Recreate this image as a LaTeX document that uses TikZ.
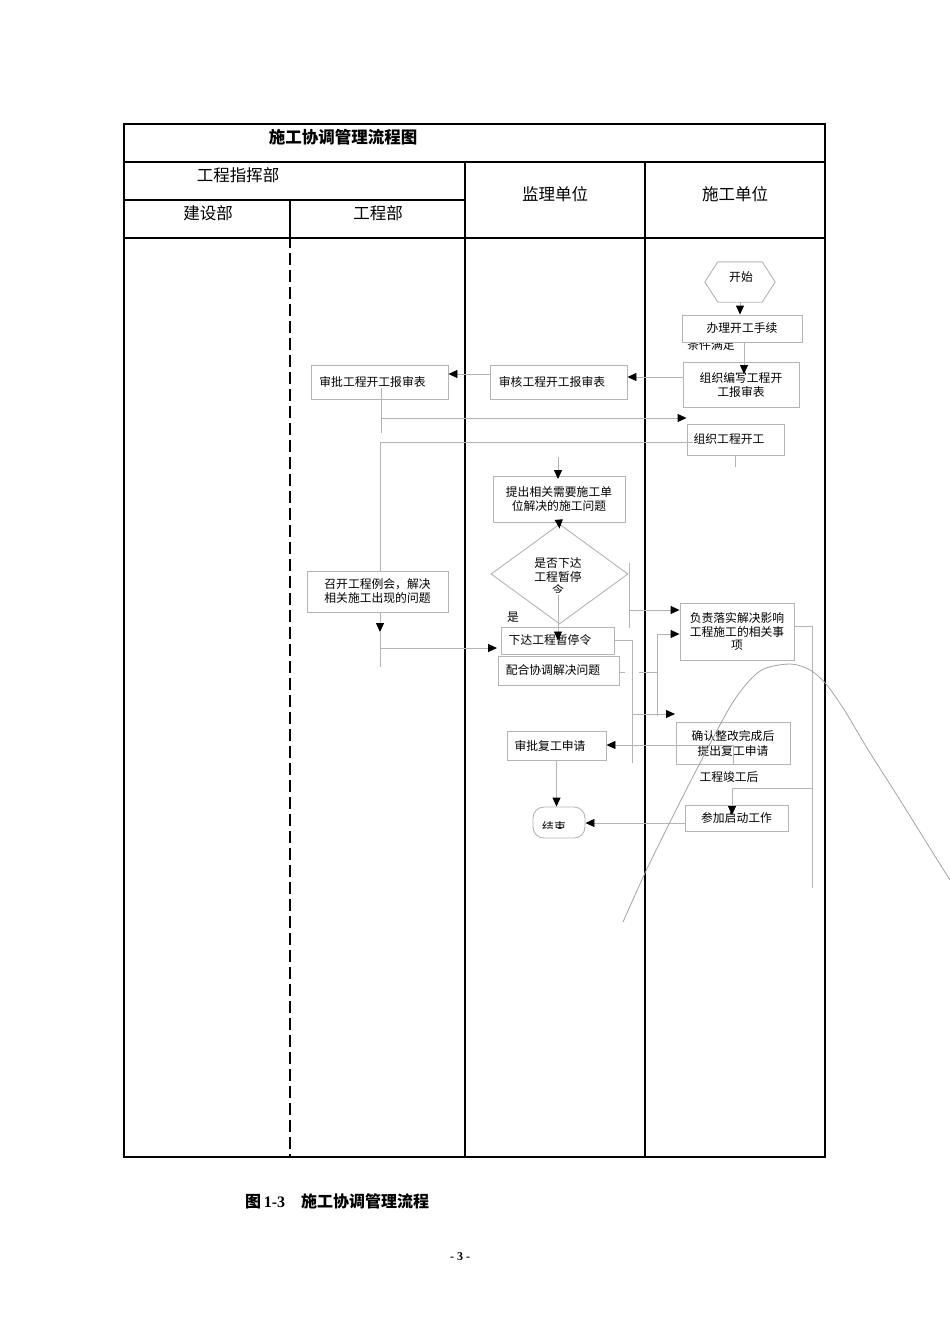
\documentclass[tikz,border=0pt]{standalone}
\usepackage{fontspec}
\setmainfont{Noto Sans CJK SC}
\newfontfamily\tnr{Liberation Serif}
\usetikzlibrary{arrows.meta,shapes.geometric,calc}
\pgfdeclarelayer{bg}
\pgfsetlayers{bg,main}
\definecolor{lg}{HTML}{B4B4B4}
\definecolor{cg}{HTML}{A4A4A4}
\begin{document}
\begin{tikzpicture}[x=1pt,y=-1pt,
  frame/.style={line width=2.6pt, black},
  boxn/.style={draw=lg, line width=0.9pt, fill=white, inner sep=0pt, align=center, font=\fontsize{11.8pt}{14pt}\selectfont},
  conn/.style={draw=lg, line width=0.9pt},
  arr/.style={conn, -{Triangle[length=9pt,width=8pt,black]}},
  lbl/.style={inner sep=0pt, align=center, font=\fontsize{11.8pt}{14pt}\selectfont},
  head/.style={inner sep=0pt, font=\fontsize{16.5pt}{18pt}\selectfont},
]
\useasboundingbox (0,0) rectangle (950,1344);

% ---------- table frame ----------
\begin{pgfonlayer}{bg}
\fill[white] (0,0) rectangle (950,1344);
\draw[frame] (124,124) rectangle (825,1157);
\draw[frame] (124,162) -- (825,162);
\draw[frame] (124,200) -- (465,200);
\draw[frame] (124,238) -- (825,238);
\draw[frame] (465,162) -- (465,1157);
\draw[frame] (645,162) -- (645,1157);
\draw[frame] (290,200) -- (290,238);
\draw[frame, dash pattern=on 12pt off 5pt, dash phase=2pt] (290,238) -- (290,1157);
\end{pgfonlayer}

% ---------- headers ----------
\node[head] (tt) at (343,137) {\bfseries 施工协调管理流程图};
\node[head] (h1) at (238,175) {工程指挥部};
\node[head] (h2) at (208,213) {建设部};
\node[head] (h3) at (378,213) {工程部};
\node[head] (h4) at (555,194) {监理单位};
\node[head] (h5) at (735,194) {施工单位};

% ---------- start ----------
\node[inner sep=0pt, minimum width=70pt, minimum height=40pt] (start) at (740,282) {};
\draw[conn] (start.west) -- ([xshift=13pt]start.north west) -- ([xshift=-13pt]start.north east) -- (start.east) -- ([xshift=-13pt]start.south east) -- ([xshift=13pt]start.south west) -- cycle;
\node[lbl] (starttxt) at (741,277) {开始};

% ---------- boxes ----------
\begin{scope}
\clip (680,342.5) rectangle (760,360);
\node[lbl] (cond) at (711,345) {条件满足};
\end{scope}
\node[boxn, minimum width=120pt, minimum height=27pt] (b1) at (742,328.5) {办理开工手续};
\node[boxn, minimum width=116pt, minimum height=45pt] (b2) at (741,384.5) {组织编写工程开\\工报审表};
\node[boxn, minimum width=137pt, minimum height=34pt] (b3) at (558.5,382) {审核工程开工报审表\rule{13pt}{0pt}};
\node[boxn, minimum width=137pt, minimum height=34pt] (b4) at (379.5,382) {审批工程开工报审表\rule{14pt}{0pt}};
\node[boxn, minimum width=97pt, minimum height=31pt] (b5) at (735.5,439.5) {组织工程开工\rule{13pt}{0pt}};
\node[boxn, minimum width=132pt, minimum height=46pt] (b6) at (559,499) {提出相关需要施工单\\位解决的施工问题};
\node[draw=lg, line width=0.9pt, fill=white, diamond, inner sep=0pt, minimum width=137pt, minimum height=100pt] (dec) at (559.5,574) {};
\node[lbl] (dectxt) at (558,570.5) {是否下达\\工程暂停};
\begin{scope}
\clip (520,580) rectangle (600,592);
\node[lbl] (ling) at (558,590) {令};
\end{scope}
\node[lbl] (yes) at (513,617) {是};
\node[boxn, minimum width=113pt, minimum height=27pt] (b7) at (557.5,640.5) {下达工程暂停令\rule{15pt}{0pt}};
\node[boxn, minimum width=121pt, minimum height=29pt] (b8) at (558.5,670.5) {配合协调解决问题\rule{11pt}{0pt}};
\node[boxn, minimum width=141pt, minimum height=41pt] (b9) at (377.5,591.5) {召开工程例会，解决\\相关施工出现的问题};
\node[boxn, minimum width=114pt, minimum height=57pt, font=\fontsize{11.8pt}{13.5pt}\selectfont] (b10) at (737,631.5) {负责落实解决影响\\工程施工的相关事\\项};
\node[boxn, fill=none, minimum width=114pt, minimum height=42pt, font=\fontsize{11.8pt}{15pt}\selectfont] (b11) at (733,743) {确认整改完成后\\提出复工申请};
\node[boxn, minimum width=99pt, minimum height=29pt] (b12) at (556.5,745.5) {审批复工申请\rule{13pt}{0pt}};
\node[draw=lg, line width=0.9pt, fill=white, rounded corners=11pt, minimum width=52pt, minimum height=31pt, inner sep=0pt] (fin) at (559,822.5) {};
\begin{scope}
\clip (536,810) rectangle (582,828.5);
\node[lbl] (fintxt) at (554,826.5) {结束};
\end{scope}
\node[lbl] (done) at (729,777) {工程竣工后};
\node[boxn, minimum width=103pt, minimum height=26pt] (b13) at (736.5,818) {参加启动工作};

% ---------- coordinates ----------
\coordinate (k1) at (744,374);
\coordinate (j1) at (381,418);
\coordinate (j2) at (380,442);
\coordinate (j3) at (380,632);
\coordinate (j4) at (380,648);
\coordinate (j5) at (380,667);
\coordinate (t7) at (497,648);
\coordinate (k2) at (558,457);
\coordinate (k3) at (558,479);
\coordinate (k4) at (558,595);
\coordinate (k5) at (629,563);
\coordinate (k6) at (629,628);
\coordinate (k7) at (629,610);
\coordinate (k9) at (632,763);
\coordinate (k10) at (632,714);
\coordinate (t10) at (675,714);
\coordinate (k11) at (639,672);
\coordinate (k12) at (657,672);
\coordinate (k13) at (657,634);
\coordinate (k14) at (657,716);
\coordinate (k15) at (812,626);
\coordinate (k16) at (812,888);
\coordinate (k17) at (812,788);
\coordinate (k18) at (732,788);

% ---------- connectors ----------
\draw[arr] (start.south) -- (start.south |- b1.north);
\draw[arr] (b1.south -| k1) -- (k1);
\draw[arr] ([yshift=7.5pt]b2.west) -- ([yshift=5pt]b3.east);
\draw[arr] ([yshift=8pt]b3.west) -- ([yshift=8pt]b4.east);
\draw[conn] ([xshift=1.5pt,yshift=-6pt]b4.center) -- (381,433);
\draw[arr] (j1) -- (j1 -| b5.west);
\draw[conn] ([xshift=6pt,yshift=-2.5pt]b5.west) -- (j2);
\begin{pgfonlayer}{bg}
\draw[arr] (j2) -- (j3);
\draw[conn] (j3) -- (j5);
\end{pgfonlayer}
\draw[arr] (j4) -- (t7);
\draw[conn] (b5.south) -- ++(0,12);
\draw[arr] (k2) -- (k3);
\draw[arr] (b6.south) -- ([yshift=-5pt]dec.north);
\draw[arr] (k4) -- (k4 |- b7.center);
\draw[conn] (k5) -- (k6);
\draw[arr] (k7) -- (k7 -| b10.west);
\draw[conn] (b7.east) -- (b7.east -| k9) -- (k9);
\draw[arr] (k10) -- (t10);
\draw[conn] ([yshift=-1.5pt]b8.east) -- ++(6,0);
\draw[conn] (k11) -- (k12);
\draw[conn] (k13) -- (k14);
\draw[arr] (k13) -- (k13 -| b10.west);
\draw[arr] (b11.south) -- ([yshift=-2pt]b11.center) -- ([yshift=-2pt]b11.center -| b12.east);
\draw[arr] (b12.south) -- (b12.south |- fin.north);
\draw[conn] ([yshift=5.5pt]b10.east) -- (k15) -- (k16);
\draw[arr] (k17) -- (k18) -- ([yshift=3pt]b13.center -| k18);
\draw[arr] ([yshift=-5pt]b13.west) -- ([yshift=-5pt]b13.west -| fin.east);

% ---------- stray curve ----------
\draw[cg, line width=0.8pt] plot[smooth, tension=0.5] coordinates {(623,922) (645,873) (672,818) (700,763) (733,702) (760,671) (790,664) (810,670) (826,684) (845,711) (867,748) (900,800) (933,853) (950,880)};

% ---------- caption ----------
\node[inner sep=0pt, anchor=west, font=\fontsize{16pt}{18pt}\selectfont\bfseries] (cap) at (245,1201) {图\,{\tnr\bfseries 1-3}\quad 施工协调管理流程};
\node[inner sep=0pt, font=\fontsize{12pt}{14pt}\selectfont\tnr\bfseries] (pg) at (460,1257) {- 3 -};
\end{tikzpicture}
\end{document}
